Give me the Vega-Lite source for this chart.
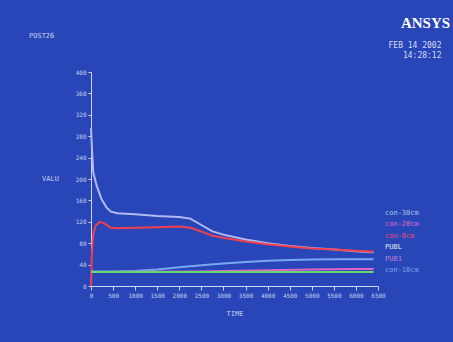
{
  "$schema": "https://vega.github.io/schema/vega-lite/v6.json",
  "autosize": {"type": "none"},
  "width": 287,
  "height": 214,
  "padding": {"left": 91, "top": 72, "right": 75, "bottom": 56},
  "background": "#2846b8",
  "title": {
    "text": "POST26",
    "anchor": "start",
    "frame": "group",
    "dx": -62,
    "offset": 0,
    "dy": 24,
    "fontSize": 7,
    "font": "DejaVu Sans Mono",
    "fontWeight": "normal",
    "color": "#c8d0f0"
  },
  "config": {
    "view": {"stroke": null},
    "axis": {
      "grid": false,
      "domainColor": "#d0d4f4",
      "tickColor": "#d0d4f4",
      "labelColor": "#c8d0f0",
      "titleColor": "#c8d0f0",
      "labelFont": "DejaVu Sans Mono",
      "titleFont": "DejaVu Sans Mono",
      "labelFontSize": 6,
      "titleFontSize": 7,
      "titleFontWeight": "normal"
    }
  },
  "data": {
    "values": [
      {"series": "con-30cm", "time": 0, "value": 295},
      {"series": "con-30cm", "time": 20, "value": 260},
      {"series": "con-30cm", "time": 50, "value": 213},
      {"series": "con-30cm", "time": 130, "value": 187},
      {"series": "con-30cm", "time": 240, "value": 162},
      {"series": "con-30cm", "time": 350, "value": 147},
      {"series": "con-30cm", "time": 450, "value": 139},
      {"series": "con-30cm", "time": 600, "value": 136},
      {"series": "con-30cm", "time": 1000, "value": 134},
      {"series": "con-30cm", "time": 1500, "value": 131},
      {"series": "con-30cm", "time": 2000, "value": 129},
      {"series": "con-30cm", "time": 2250, "value": 126},
      {"series": "con-30cm", "time": 2500, "value": 114},
      {"series": "con-30cm", "time": 2750, "value": 102},
      {"series": "con-30cm", "time": 3000, "value": 96},
      {"series": "con-30cm", "time": 3500, "value": 87},
      {"series": "con-30cm", "time": 4000, "value": 80},
      {"series": "con-30cm", "time": 4500, "value": 75},
      {"series": "con-30cm", "time": 5000, "value": 71},
      {"series": "con-30cm", "time": 5500, "value": 68},
      {"series": "con-30cm", "time": 6000, "value": 65},
      {"series": "con-30cm", "time": 6400, "value": 63},
      {"series": "con-0cm", "time": 0, "value": 0},
      {"series": "con-0cm", "time": 20, "value": 60},
      {"series": "con-0cm", "time": 50, "value": 95},
      {"series": "con-0cm", "time": 100, "value": 112},
      {"series": "con-0cm", "time": 200, "value": 120},
      {"series": "con-0cm", "time": 300, "value": 117},
      {"series": "con-0cm", "time": 450, "value": 109},
      {"series": "con-0cm", "time": 600, "value": 108},
      {"series": "con-0cm", "time": 1000, "value": 109},
      {"series": "con-0cm", "time": 1500, "value": 110},
      {"series": "con-0cm", "time": 2000, "value": 111},
      {"series": "con-0cm", "time": 2250, "value": 109},
      {"series": "con-0cm", "time": 2500, "value": 102},
      {"series": "con-0cm", "time": 2750, "value": 94},
      {"series": "con-0cm", "time": 3000, "value": 90},
      {"series": "con-0cm", "time": 3500, "value": 83},
      {"series": "con-0cm", "time": 4000, "value": 78},
      {"series": "con-0cm", "time": 4500, "value": 74},
      {"series": "con-0cm", "time": 5000, "value": 70},
      {"series": "con-0cm", "time": 5500, "value": 68},
      {"series": "con-0cm", "time": 6000, "value": 66},
      {"series": "con-0cm", "time": 6400, "value": 64},
      {"series": "con-10cm", "time": 0, "value": 27},
      {"series": "con-10cm", "time": 500, "value": 27},
      {"series": "con-10cm", "time": 1000, "value": 28},
      {"series": "con-10cm", "time": 1500, "value": 31},
      {"series": "con-10cm", "time": 2000, "value": 35},
      {"series": "con-10cm", "time": 2500, "value": 39},
      {"series": "con-10cm", "time": 3000, "value": 42},
      {"series": "con-10cm", "time": 3500, "value": 45},
      {"series": "con-10cm", "time": 4000, "value": 47},
      {"series": "con-10cm", "time": 4500, "value": 48.5},
      {"series": "con-10cm", "time": 5000, "value": 49.5},
      {"series": "con-10cm", "time": 5500, "value": 50},
      {"series": "con-10cm", "time": 6000, "value": 50},
      {"series": "con-10cm", "time": 6400, "value": 50},
      {"series": "con-20cm", "time": 0, "value": 26},
      {"series": "con-20cm", "time": 2500, "value": 27},
      {"series": "con-20cm", "time": 3000, "value": 28},
      {"series": "con-20cm", "time": 4000, "value": 29.5},
      {"series": "con-20cm", "time": 5000, "value": 31},
      {"series": "con-20cm", "time": 6000, "value": 32},
      {"series": "con-20cm", "time": 6400, "value": 32},
      {"series": "PUBL", "time": 0, "value": 26},
      {"series": "PUBL", "time": 6400, "value": 26}
    ]
  },
  "encoding": {
    "color": {
      "field": "series",
      "type": "nominal",
      "scale": {
        "domain": ["con-30cm", "con-20cm", "con-0cm", "PUBL", "PUB1", "con-10cm"],
        "range": ["#b4b8f4", "#e066c8", "#f0404c", "#66d870", "#c080d0", "#78a8f0"]
      },
      "legend": {
        "orient": "none",
        "legendX": 287,
        "legendY": 137,
        "title": null,
        "symbolSize": 0,
        "symbolOpacity": 0,
        "labelOffset": 0,
        "labelFont": "DejaVu Sans Mono",
        "labelFontSize": 7,
        "rowPadding": 3.5,
        "encode": {
          "labels": {
            "update": {
              "fill": {"signal": "datum.value == 'PUBL' ? '#e4e8ec' : datum.value == 'con-30cm' ? '#a8c8e8' : datum.value == 'con-0cm' ? '#e8507a' : scale('color', datum.value)"}
            }
          }
        }
      }
    }
  },
  "resolve": {"axis": {"x": "independent", "y": "independent"}},
  "layer": [
    {
      "transform": [{"filter": "datum.series != 'PUBL'"}],
      "mark": {"type": "line", "strokeWidth": 2},
      "encoding": {
        "x": {
          "field": "time",
          "type": "quantitative",
          "scale": {"domain": [0, 6500], "nice": false},
          "axis": {
            "orient": "bottom",
            "values": [0, 500, 1000, 1500, 2000, 2500, 3000, 3500, 4000, 4500, 5000, 5500, 6000, 6500],
            "format": "d",
            "tickSize": 4,
            "labelPadding": 2,
            "labelFlush": false,
            "labelOverlap": false,
            "title": "TIME",
            "titleY": 27,
            "titleBaseline": "middle",
            "encode": {"labels": {"update": {"dy": {"signal": "datum.value % 1000 ? 7 : 0"}}}}
          }
        },
        "y": {
          "field": "value",
          "type": "quantitative",
          "scale": {"domain": [0, 400], "nice": false},
          "axis": {
            "orient": "left",
            "values": [0, 40, 80, 120, 160, 200, 240, 280, 320, 360, 400],
            "format": "d",
            "tickSize": 3,
            "labelPadding": 2,
            "labelFlush": false,
            "title": "VALU",
            "titleAngle": 0,
            "titleX": -41,
            "titleY": 106,
            "titleAlign": "center",
            "titleBaseline": "middle"
          }
        }
      }
    },
    {
      "transform": [{"filter": "datum.series == 'PUBL'"}],
      "mark": {"type": "line", "strokeWidth": 2},
      "encoding": {
        "x": {
          "field": "time",
          "type": "quantitative",
          "scale": {"domain": [0, 6500], "nice": false},
          "axis": {
            "orient": "top",
            "domain": false,
            "ticks": false,
            "labels": false,
            "title": ["FEB 14 2002", "14:28:12"],
            "titleFontSize": 8,
            "titleLineHeight": 10,
            "titleAlign": "right",
            "titleAnchor": null,
            "titleX": 350,
            "titleY": -27,
            "titleBaseline": "middle",
            "titleColor": "#d8dcf4"
          }
        },
        "y": {
          "field": "value",
          "type": "quantitative",
          "scale": {"domain": [0, 400], "nice": false},
          "axis": {
            "orient": "right",
            "domain": false,
            "ticks": false,
            "labels": false,
            "title": "ANSYS",
            "titleFont": "Liberation Serif",
            "titleFontSize": 15,
            "titleFontWeight": "bold",
            "titleColor": "#ffffff",
            "titleAngle": 0,
            "titleX": 47,
            "titleY": -50,
            "titleAlign": "center",
            "titleBaseline": "middle"
          }
        }
      }
    }
  ]
}
